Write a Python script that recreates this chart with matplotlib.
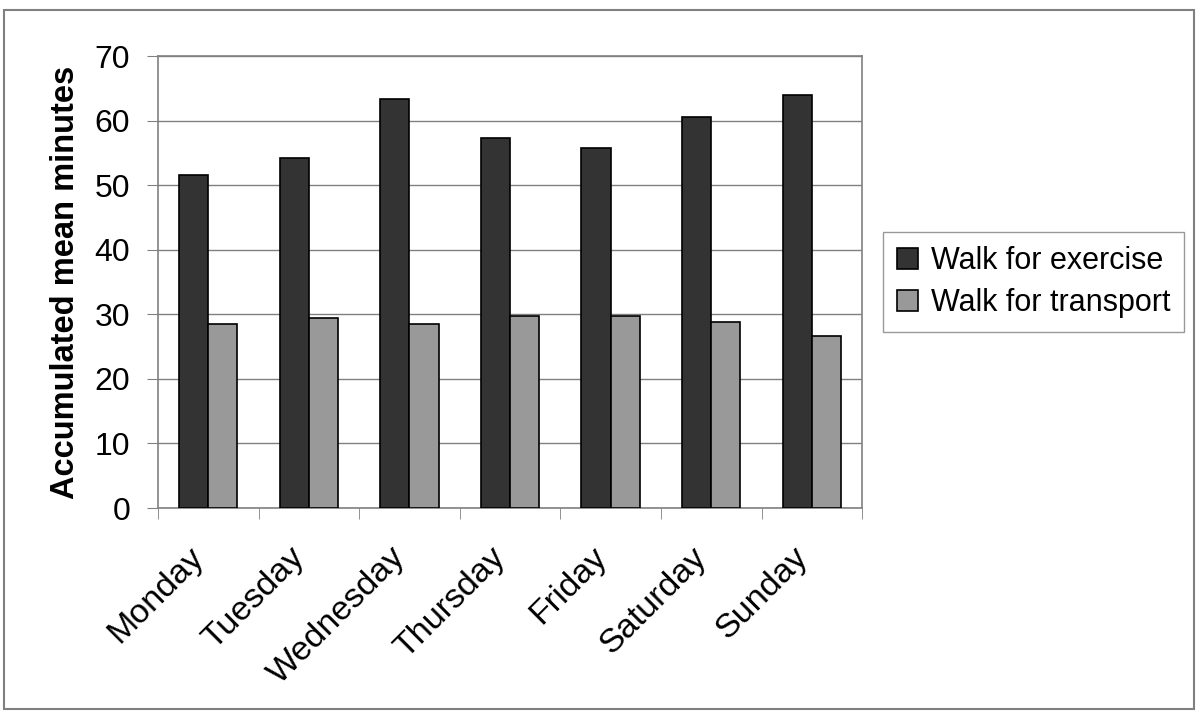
import matplotlib
matplotlib.use('Agg')
import matplotlib.pyplot as plt
import numpy as np
from matplotlib.patches import Rectangle
from matplotlib.transforms import ScaledTranslation

plt.rcParams['font.family'] = ['Liberation Sans', 'DejaVu Sans']

days = ['Monday', 'Tuesday', 'Wednesday', 'Thursday', 'Friday', 'Saturday', 'Sunday']
exercise = [51.6, 54.2, 63.3, 57.3, 55.8, 60.6, 64.0]
transport = [28.5, 29.4, 28.5, 29.7, 29.7, 28.8, 26.6]

fig = plt.figure(figsize=(12, 7.2), dpi=100)
ax = fig.add_axes([0.1317, 0.2944, 0.5867, 0.6278])

# outer chart border
fig.patches.append(Rectangle((4 / 1200, 1 - 709 / 720), 1190 / 1200, 699 / 720,
                             transform=fig.transFigure, fill=False,
                             edgecolor='#808080', linewidth=1.5))

x = np.arange(len(days))
w = 0.29
ax.bar(x - w / 2, exercise, w, color='#333333', edgecolor='black', linewidth=1.2,
       label='Walk for exercise', zorder=3)
ax.bar(x + w / 2, transport, w, color='#999999', edgecolor='black', linewidth=1.2,
       label='Walk for transport', zorder=3)

ax.set_xlim(-0.5, len(days) - 0.5)
ax.set_ylim(0, 70)
ax.set_yticks(range(0, 71, 10))
ax.yaxis.grid(True, color='#808080', linewidth=1.0, zorder=0)

ax.set_xticks(x)
ax.set_xticklabels(days, rotation=45, ha='right', rotation_mode='anchor', fontsize=24.5)
ax.tick_params(axis='x', length=0, pad=24)
# shift the day labels a bit to the left of their ticks
for lbl in ax.get_xticklabels():
    lbl.set_transform(lbl.get_transform() + ScaledTranslation(-0.2, 0, fig.dpi_scale_trans))
ax.set_xticks(np.arange(-0.5, len(days)), minor=True)
ax.tick_params(axis='x', which='minor', length=8, color='#808080', direction='out')
ax.tick_params(axis='y', length=8, color='#808080', labelsize=23, pad=12)

for side in ['top', 'right', 'left', 'bottom']:
    ax.spines[side].set_color('#808080')
    ax.spines[side].set_linewidth(1.2)

ax.set_ylabel('Accumulated mean minutes', fontsize=23.5, fontweight='bold', labelpad=10)

leg = ax.legend(loc='center left', bbox_to_anchor=(1.03, 0.5), fontsize=22,
                frameon=True, fancybox=False, edgecolor='#808080',
                handlelength=0.7, handleheight=0.7, handletextpad=0.4,
                borderpad=0.45, labelspacing=0.4, borderaxespad=0)
leg.get_frame().set_linewidth(1.0)

fig.savefig('out.png', dpi=100)
